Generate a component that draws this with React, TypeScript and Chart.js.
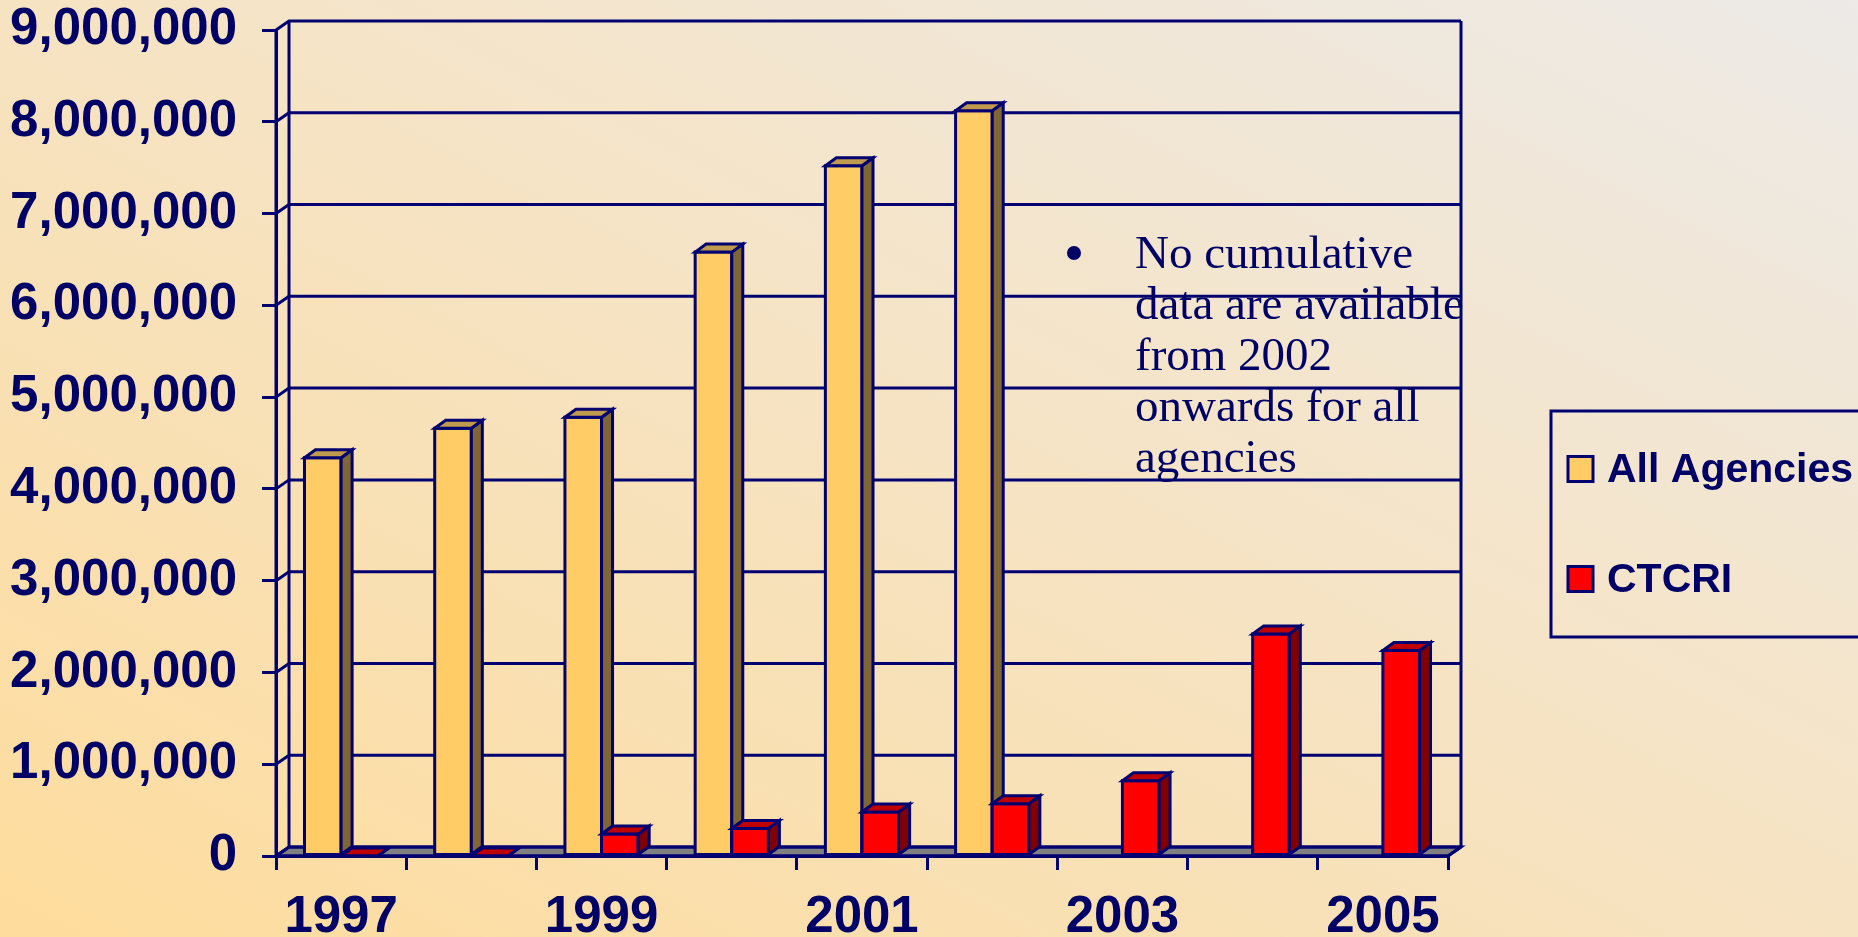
import React, { useEffect, useRef } from "react";
import { Chart, registerables } from "chart.js";

Chart.register(...registerables);

const CATEGORIES = ["1997", "1998", "1999", "2000", "2001", "2002", "2003", "2004", "2005"];
const ALL_AGENCIES: (number | null)[] = [4340000, 4660000, 4780000, 6580000, 7520000, 8120000, null, null, null];
const CTCRI: number[] = [0, 0, 240000, 300000, 480000, 570000, 820000, 2420000, 2240000];
const Y_MAX = 9000000;
const Y_STEP = 1000000;
const SERIES_NAMES = ["All Agencies", "CTCRI"];
const NOTE_LINES = ["No cumulative", "data are available", "from 2002", "onwards for all", "agencies"];

const NAVY = "#000070";
const TEXT = "#000066";
const FACE = ["#FFCC66", "#FF0000"];
const SIDE = ["#806633", "#800000"];
const TOP = ["#C09B4D", "#C00000"];
const FLOOR = "#808080";
const SANS = "'Liberation Sans', Arial, sans-serif";
const SERIF = "'Liberation Serif', 'Times New Roman', serif";
const LW = 3;

const WALL_DX = 13;
const WALL_DY = -9;
const BAR_DX = 11;
const BAR_DY = -8;

const threeD = {
  id: "threeD",
  beforeDatasetsDraw(chart: any) {
    const { ctx, chartArea } = chart;
    const { left, right, top, bottom } = chartArea;
    const y = chart.scales.y;
    ctx.save();
    ctx.lineWidth = LW;
    ctx.strokeStyle = NAVY;
    ctx.lineJoin = "miter";
    // floor
    ctx.beginPath();
    ctx.moveTo(left, bottom);
    ctx.lineTo(right, bottom);
    ctx.lineTo(right + WALL_DX, bottom + WALL_DY);
    ctx.lineTo(left + WALL_DX, bottom + WALL_DY);
    ctx.closePath();
    ctx.fillStyle = FLOOR;
    ctx.fill();
    ctx.stroke();
    // back wall grid lines + left wall diagonals
    for (let v = 0; v <= Y_MAX; v += Y_STEP) {
      const py = y.getPixelForValue(v);
      ctx.beginPath();
      ctx.moveTo(left, py);
      ctx.lineTo(left + WALL_DX, py + WALL_DY);
      ctx.lineTo(right + WALL_DX, py + WALL_DY);
      ctx.stroke();
    }
    // verticals
    ctx.beginPath();
    ctx.moveTo(left + WALL_DX, top + WALL_DY);
    ctx.lineTo(left + WALL_DX, bottom + WALL_DY);
    ctx.moveTo(right + WALL_DX, top + WALL_DY);
    ctx.lineTo(right + WALL_DX, bottom + WALL_DY);
    ctx.moveTo(left, top);
    ctx.lineTo(left, bottom);
    ctx.stroke();
    ctx.restore();
  },
  afterDatasetsDraw(chart: any) {
    const { ctx, chartArea } = chart;
    ctx.save();
    ctx.lineWidth = LW;
    ctx.strokeStyle = NAVY;
    ctx.lineJoin = "miter";
    const n = chart.data.labels.length;
    for (let i = 0; i < n; i++) {
      for (let d = 0; d < chart.data.datasets.length; d++) {
        const val = chart.data.datasets[d].data[i];
        if (val === null || val === undefined) continue;
        const el: any = chart.getDatasetMeta(d).data[i];
        const x0 = el.x - el.width / 2;
        const x1 = el.x + el.width / 2;
        const yt = el.y;
        const yb = el.base;
        // front
        ctx.fillStyle = FACE[d];
        ctx.beginPath();
        ctx.rect(x0, yt, x1 - x0, yb - yt);
        ctx.fill();
        ctx.stroke();
        // side
        ctx.fillStyle = SIDE[d];
        ctx.beginPath();
        ctx.moveTo(x1, yt);
        ctx.lineTo(x1 + BAR_DX, yt + BAR_DY);
        ctx.lineTo(x1 + BAR_DX, yb + BAR_DY);
        ctx.lineTo(x1, yb);
        ctx.closePath();
        ctx.fill();
        ctx.stroke();
        // top
        ctx.fillStyle = TOP[d];
        ctx.beginPath();
        ctx.moveTo(x0, yt);
        ctx.lineTo(x0 + BAR_DX, yt + BAR_DY);
        ctx.lineTo(x1 + BAR_DX, yt + BAR_DY);
        ctx.lineTo(x1, yt);
        ctx.closePath();
        ctx.fill();
        ctx.stroke();
      }
    }
    // front base line
    ctx.beginPath();
    ctx.moveTo(chartArea.left, chartArea.bottom);
    ctx.lineTo(chartArea.right, chartArea.bottom);
    ctx.lineTo(chartArea.right + WALL_DX, chartArea.bottom + WALL_DY);
    ctx.stroke();

    // note
    ctx.fillStyle = TEXT;
    ctx.beginPath();
    ctx.arc(1074, 253, 7, 0, Math.PI * 2);
    ctx.fill();
    ctx.font = `47px ${SERIF}`;
    ctx.textAlign = "left";
    ctx.textBaseline = "alphabetic";
    NOTE_LINES.forEach((line, k) => {
      ctx.fillText(line, 1135, 268 + k * 51);
    });

    // legend
    ctx.strokeStyle = NAVY;
    ctx.lineWidth = LW;
    ctx.strokeRect(1551, 411, 400, 226);
    ctx.font = `bold 41px ${SANS}`;
    ctx.textBaseline = "middle";
    const ys = [469, 579];
    SERIES_NAMES.forEach((name, k) => {
      ctx.fillStyle = FACE[k];
      ctx.fillRect(1568, ys[k] - 12.5, 25, 25);
      ctx.strokeRect(1568, ys[k] - 12.5, 25, 25);
      ctx.fillStyle = TEXT;
      ctx.fillText(name, 1607, ys[k] + 2);
    });
    ctx.restore();
  },
};

export default function App() {
  const ref = useRef<HTMLCanvasElement | null>(null);
  useEffect(() => {
    if (!ref.current) return;
    const chart = new Chart(ref.current, {
      type: "bar",
      data: {
        labels: CATEGORIES,
        datasets: [
          { label: SERIES_NAMES[0], data: ALL_AGENCIES, backgroundColor: FACE[0], borderColor: NAVY, borderWidth: 2 },
          { label: SERIES_NAMES[1], data: CTCRI, backgroundColor: FACE[1], borderColor: NAVY, borderWidth: 2 },
        ],
      },
      options: {
        responsive: false,
        animation: false,
        devicePixelRatio: 1,
        datasets: { bar: { categoryPercentage: 0.5625, barPercentage: 1 } },
        layout: { padding: { left: 0, right: 410, top: 30, bottom: 0 } },
        plugins: { legend: { display: false }, tooltip: { enabled: false } },
        scales: {
          x: {
            grid: { offset: true, drawOnChartArea: false, drawTicks: true, tickLength: 14, color: NAVY, lineWidth: LW },
            border: { display: true, color: NAVY, width: LW },
            ticks: {
              autoSkip: false,
              maxRotation: 0,
              padding: 17,
              color: TEXT,
              font: { family: SANS, weight: "bold", size: 51 },
              callback: (_v: any, i: number) => (i % 2 === 0 ? CATEGORIES[i] : ""),
            },
            afterFit: (s: any) => {
              s.height = 81;
              s.paddingLeft = 0;
              s.paddingRight = 0;
            },
          },
          y: {
            min: 0,
            max: Y_MAX,
            grid: { drawOnChartArea: false, drawTicks: true, tickLength: 14, color: NAVY, lineWidth: LW },
            border: { display: true, color: NAVY, width: LW },
            ticks: {
              stepSize: Y_STEP,
              padding: 25,
              color: TEXT,
              font: { family: SANS, weight: "bold", size: 51 },
              callback: (v: any) => Number(v).toLocaleString("en-US"),
            },
            afterFit: (s: any) => {
              s.width = 276;
              s.paddingTop = 0;
              s.paddingBottom = 0;
            },
          },
        },
      } as any,
      plugins: [threeD],
    });
    return () => chart.destroy();
  }, []);
  return (
    <div
      style={{
        position: "fixed",
        left: 0,
        top: 0,
        width: 1858,
        height: 937,
        overflow: "hidden",
        background: "linear-gradient(to top right, #FEDC9C, #F6E3C2 50%, #EDEAE7)",
      }}
    >
      <canvas ref={ref} width={1858} height={937} style={{ display: "block" }} />
    </div>
  );
}
